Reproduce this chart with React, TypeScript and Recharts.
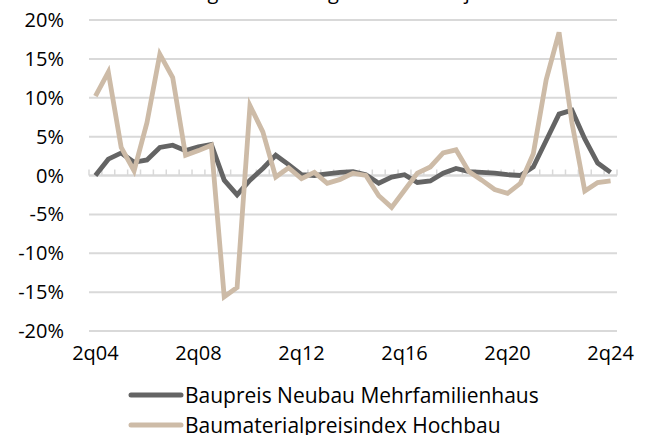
import React from 'react';
import { LineChart, Line, XAxis, YAxis, CartesianGrid, ReferenceLine, Legend } from 'recharts';

const categories = [
  '2q04', '4q04', '2q05', '4q05', '2q06', '4q06', '2q07', '4q07', '2q08', '4q08',
  '2q09', '4q09', '2q10', '4q10', '2q11', '4q11', '2q12', '4q12', '2q13', '4q13',
  '2q14', '4q14', '2q15', '4q15', '2q16', '4q16', '2q17', '4q17', '2q18', '4q18',
  '2q19', '4q19', '2q20', '4q20', '2q21', '4q21', '2q22', '4q22', '2q23', '4q23',
  '2q24',
];

const baupreis = [
  0.0, 2.1, 2.9, 1.7, 2.0, 3.6, 3.9, 3.2, 3.7, 4.0,
  -0.6, -2.5, -0.6, 0.9, 2.6, 1.4, 0.1, 0.0, 0.2, 0.4,
  0.5, 0.1, -1.0, -0.2, 0.1, -0.9, -0.7, 0.3, 0.9, 0.5,
  0.4, 0.3, 0.1, 0.0, 1.1, 4.5, 7.9, 8.4, 4.7, 1.6,
  0.4,
];

const baumaterial = [
  10.2, 13.3, 3.6, 0.6, 6.8, 15.6, 12.6, 2.6, 3.2, 3.9,
  -15.6, -14.4, 9.0, 5.6, -0.2, 1.0, -0.4, 0.4, -1.0, -0.5,
  0.3, 0.0, -2.6, -4.1, -1.9, 0.3, 1.1, 2.9, 3.3, 0.5,
  -0.6, -1.8, -2.3, -1.0, 2.8, 12.3, 18.4, 6.8, -2.0, -0.9,
  -0.7,
];

const seriesNames = ['Baupreis Neubau Mehrfamilienhaus', 'Baumaterialpreisindex Hochbau'];
const seriesColors = ['#646464', '#CDBBA7'];
const xTickLabels = ['2q04', '2q08', '2q12', '2q16', '2q20', '2q24'];
const yTicks = [-20, -15, -10, -5, 0, 5, 10, 15, 20];
const titleText = 'Veränderung in % im Vergleich zum Vorjahr';

const data = categories.map((c, i) => ({
  idx: i,
  cat: c,
  baupreis: baupreis[i],
  baumaterial: baumaterial[i],
}));

const FONT = "'Open Sans', sans-serif";
const GRID = '#d9d9d9';

const ZeroAxis = (props: any) => {
  const { x1, y1, x2, y2 } = props;
  const n = categories.length;
  const marks = [];
  for (let k = 0; k <= n; k++) {
    const x = x1 + ((x2 - x1) * k) / n;
    marks.push(<line key={k} x1={x} y1={y1} x2={x} y2={y1 - 6} stroke={GRID} strokeWidth={1.5} />);
  }
  return (
    <g>
      <line x1={x1} y1={y1} x2={x2} y2={y2} stroke={GRID} strokeWidth={2} />
      {marks}
    </g>
  );
};

const LegendContent = (props: any) => {
  const { payload } = props;
  const items = [...(payload || [])].sort(
    (a: any, b: any) => seriesNames.indexOf(a.value) - seriesNames.indexOf(b.value)
  );
  return (
    <div style={{ fontFamily: FONT, fontSize: 21, color: '#000', height: 60 }}>
      {items.map((e: any) => (
        <div key={e.value} style={{ display: 'flex', alignItems: 'center', height: 30 }}>
          <svg width={56} height={10} style={{ display: 'block' }}>
            <line x1={3} y1={5} x2={53} y2={5} stroke={e.color} strokeWidth={5} strokeLinecap="round" />
          </svg>
          <span style={{ marginLeft: 1, whiteSpace: 'nowrap' }}>{e.value}</span>
        </div>
      ))}
    </div>
  );
};

export default function App() {
  return (
    <div
      style={{
        position: 'absolute',
        left: 0,
        top: 0,
        width: 651,
        height: 435,
        overflow: 'hidden',
        background: '#fff',
        fontFamily: FONT,
      }}
    >
      <div
        style={{
          position: 'absolute',
          top: -18,
          left: 0,
          width: 598,
          textAlign: 'center',
          fontSize: 20,
          lineHeight: 1,
          color: '#000',
          whiteSpace: 'nowrap',
        }}
      >
        {titleText}
      </div>
      <LineChart
        width={651}
        height={435}
        data={data}
        margin={{ top: 20, right: 34, left: 0, bottom: 0 }}
      >
        <CartesianGrid horizontal vertical={false} stroke={GRID} strokeWidth={2} />
        <XAxis
          dataKey="idx"
          type="number"
          domain={[-0.5, categories.length - 0.5]}
          ticks={xTickLabels.map((l) => categories.indexOf(l))}
          tickFormatter={(v: number) => categories[v]}
          axisLine={false}
          tickLine={false}
          tickSize={0}
          tickMargin={15}
          height={44}
          interval={0}
          tick={{ fill: '#000', fontSize: 20, fontFamily: FONT }}
        />
        <YAxis
          type="number"
          domain={[-20, 20]}
          ticks={yTicks}
          tickFormatter={(v: number) => `${v}%`}
          axisLine={false}
          tickLine={false}
          tickSize={0}
          tickMargin={25}
          width={89}
          interval={0}
          tick={{ fill: '#000', fontSize: 20, fontFamily: FONT }}
        />
        <ReferenceLine y={0} shape={ZeroAxis} />
        <Legend
          verticalAlign="bottom"
          content={LegendContent}
          wrapperStyle={{ left: 128, top: 380, bottom: 'auto', width: 'auto' }}
        />
        <Line
          type="linear"
          dataKey="baupreis"
          name={seriesNames[0]}
          stroke={seriesColors[0]}
          strokeWidth={4.8}
          dot={false}
          activeDot={false}
          isAnimationActive={false}
        />
        <Line
          type="linear"
          dataKey="baumaterial"
          name={seriesNames[1]}
          stroke={seriesColors[1]}
          strokeWidth={4.8}
          dot={false}
          activeDot={false}
          isAnimationActive={false}
        />
      </LineChart>
    </div>
  );
}
